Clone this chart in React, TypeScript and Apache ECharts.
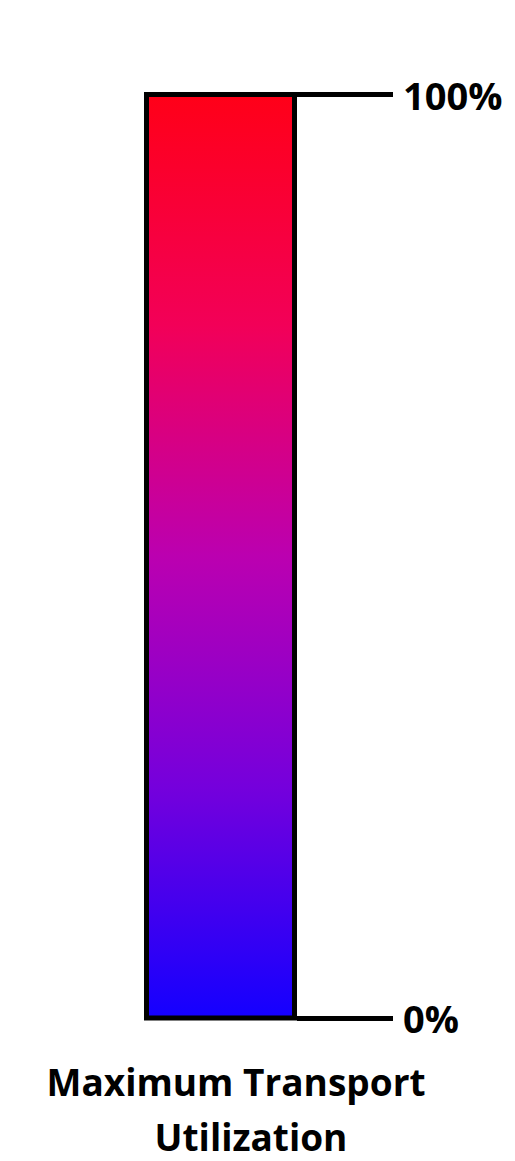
import React, { useEffect, useRef } from "react";
import * as echarts from "echarts";

const categories = ["Utilization"];
const values = [100];
const tickValues = [0, 100];
const tickLabels = ["0%", "100%"];
const gradientStops = [
  { offset: 0, color: "#ff0018" },
  { offset: 0.25, color: "#f20058" },
  { offset: 0.5, color: "#bb00b0" },
  { offset: 0.75, color: "#7500dc" },
  { offset: 1, color: "#1400ff" },
];
const titleLines = ["Maximum Transport", "Utilization"];

// bar outer box: x 144..297, y 92..1020.5; ticks sit at the border's centre line
const PAD = 2.5 / (923.5 / 100);

export default function App() {
  const ref = useRef<HTMLDivElement>(null);
  useEffect(() => {
    document.body.style.margin = "0";
    if (!ref.current) return;
    const chart = echarts.init(ref.current, undefined, { renderer: "svg" });
    const titleStyle = {
      color: "#000",
      fontFamily: "Open Sans",
      fontWeight: "bold",
      fontSize: 37,
      lineHeight: 44,
    };
    chart.setOption({
      animation: false,
      grid: { left: 144, top: 92, width: 153, height: 928.5 },
      xAxis: {
        type: "category",
        data: categories,
        show: false,
      },
      yAxis: [
        {
          type: "value",
          min: 0,
          max: 100,
          show: false,
        },
        {
          type: "value",
          position: "right",
          min: -PAD,
          max: 100 + PAD,
          axisLine: { show: false },
          splitLine: { show: false },
          axisTick: {
            show: true,
            length: 96,
            customValues: tickValues,
            lineStyle: { color: "#000", width: 5 },
          },
          axisLabel: {
            margin: 106,
            customValues: tickValues,
            color: "#000",
            fontFamily: "Open Sans",
            fontWeight: "bold",
            fontSize: 38,
            formatter: (v: number) => {
              const i = tickValues.findIndex((t) => Math.abs(t - v) < 1e-6);
              return i >= 0 ? tickLabels[i] : "";
            },
          },
        },
      ],
      series: [
        {
          type: "bar",
          yAxisIndex: 0,
          data: values,
          barWidth: "100%",
          itemStyle: {
            color: new echarts.graphic.LinearGradient(0, 0, 0, 1, gradientStops),
            borderColor: "#000",
            borderWidth: 5,
          },
        },
      ],
      title: [
        {
          text: titleLines[0],
          left: 236,
          textAlign: "center",
          top: 1059,
          padding: 0,
          textStyle: titleStyle,
        },
        {
          text: titleLines[1],
          left: 251,
          textAlign: "center",
          top: 1114,
          padding: 0,
          textStyle: titleStyle,
        },
      ],
    });
    return () => chart.dispose();
  }, []);
  return (
    <div
      ref={ref}
      style={{ position: "absolute", left: 0, top: 0, width: 515, height: 1161 }}
    />
  );
}
